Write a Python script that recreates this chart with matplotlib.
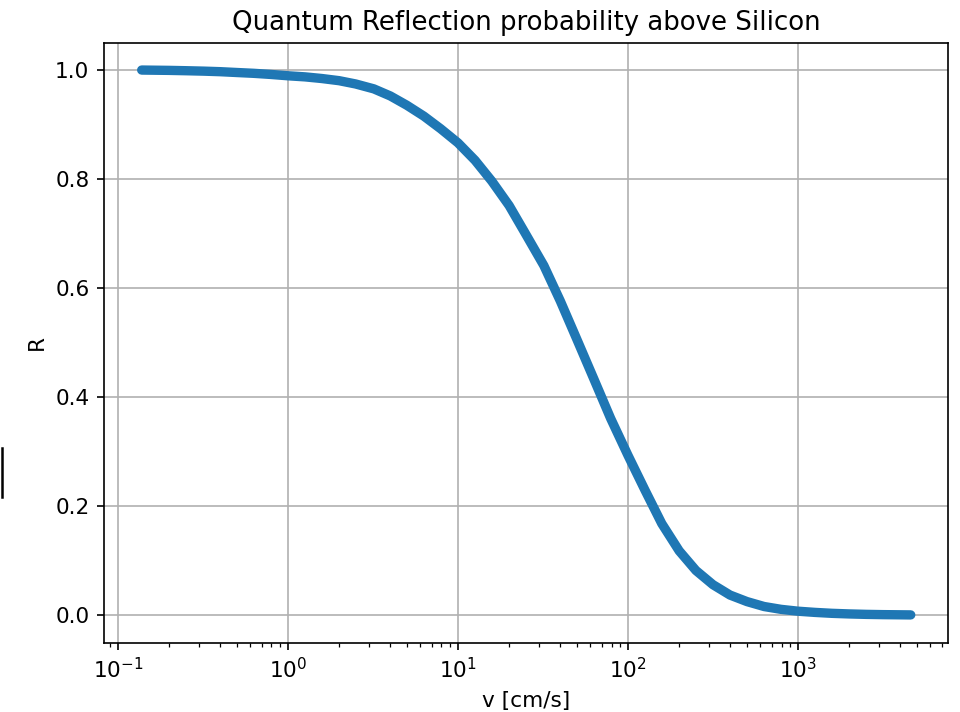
import matplotlib
matplotlib.use("Agg")
import matplotlib.pyplot as plt
from matplotlib.lines import Line2D

plt.rcParams["font.size"] = 10.4

# velocity above the surface [cm/s] and reflection probability R
v = [0.138, 0.2, 0.25, 0.32, 0.4, 0.5, 0.63, 0.79, 1.0, 1.26, 1.58, 2.0,
     2.5, 3.2, 4.0, 5.0, 6.3, 7.9, 10, 12.6, 15.8, 20, 25, 32, 40, 50, 63,
     79, 100, 126, 158, 200, 251, 316, 398, 501, 631, 794, 1000, 1259, 1585,
     1995, 2512, 3162, 4600]
R = [0.9995, 0.9989, 0.9983, 0.9975, 0.9965, 0.995, 0.9935, 0.9915, 0.989,
     0.987, 0.984, 0.980, 0.974, 0.965, 0.952, 0.935, 0.915, 0.892, 0.866,
     0.834, 0.796, 0.751, 0.699, 0.641, 0.576, 0.506, 0.433, 0.361, 0.293,
     0.229, 0.168, 0.118, 0.082, 0.056, 0.037, 0.025, 0.016, 0.0108, 0.0074,
     0.0052, 0.0035, 0.0024, 0.0016, 0.0011, 0.0006]

fig = plt.figure(figsize=(6.4, 712 / 150), dpi=150)
ax = fig.add_axes([0.1083, 0.0976, 0.8792, 0.8427])

ax.plot(v, R, color="#1f77b4", lw=4.5, solid_capstyle="round",
        solid_joinstyle="round")
ax.set_xscale("log")
ax.set_xlim(0.0828, 7620)
ax.set_ylim(-0.05, 1.05)
ax.grid(True)

ax.set_title("Quantum Reflection probability above Silicon", fontsize=12.5)
ax.set_xlabel("v [cm/s]")
ax.set_ylabel("R")

# stray bar at the left edge of the window
fig.add_artist(Line2D([1.8 / 960, 1.8 / 960], [1 - 448 / 712, 1 - 497 / 712],
                      transform=fig.transFigure, color="black", lw=1.2))

fig.savefig("out.png", dpi=150)
